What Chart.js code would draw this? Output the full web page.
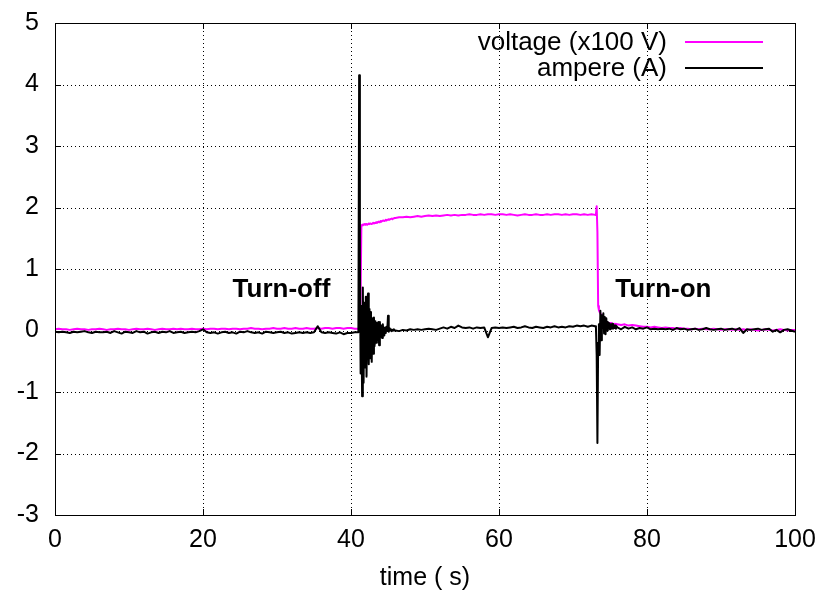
<!DOCTYPE html>
<html lang="en">
<head>
  <meta charset="UTF-8">
  <title>voltage / ampere</title>
  <script src="https://cdn.jsdelivr.net/npm/chart.js"></script>
  <style>
    html, body { margin: 0; padding: 0; background: #fff; }
    #wrap { width: 818px; height: 594px; }
  </style>
</head>
<body>
  <div id="wrap"><canvas id="vaChart" width="818" height="594"></canvas></div>
  <script>
    // time (s)
    const time = [
      0, 0.5, 1, 1.5, 2, 2.5, 3, 3.5, 4, 4.5,
      5, 5.5, 6, 6.5, 7, 7.5, 8, 8.5, 9, 9.5,
      10, 10.5, 11, 11.5, 12, 12.5, 13, 13.5, 14, 14.5,
      15, 15.5, 16, 16.5, 17, 17.5, 18, 18.5, 19, 19.5,
      20, 20.5, 21, 21.5, 22, 22.5, 23, 23.5, 24, 24.5,
      25, 25.5, 26, 26.5, 27, 27.5, 28, 28.5, 29, 29.5,
      30, 30.5, 31, 31.5, 32, 32.5, 33, 33.5, 34, 34.5,
      35, 35.5, 36, 36.5, 37, 37.5, 38, 38.5, 39, 39.5,
      40, 40.5, 41,
      41.1, 41.2, 41.3, 41.4, 41.5, 41.6, 41.7, 41.8, 41.9, 42.0,
      42.1, 42.2, 42.3, 42.4, 42.5, 42.6, 42.7, 42.8, 42.9, 43.0,
      43.1, 43.2, 43.3, 43.4, 43.5, 43.6, 43.7, 43.8, 43.9, 44.0,
      44.1, 44.2, 44.3, 44.4, 44.5, 44.6, 44.7, 44.8, 44.9, 45.0,
      45.1, 45.2, 45.3, 45.4, 45.5, 45.6, 45.7, 45.8, 45.9,
      46, 46.5, 47, 47.5, 48, 48.5, 49, 49.5, 50, 50.5,
      51, 51.5, 52, 52.5, 53, 53.5, 54, 54.5, 55, 55.5,
      56, 56.5, 57, 57.5, 58, 58.5, 59, 59.5, 60, 60.5,
      61, 61.5, 62, 62.5, 63, 63.5, 64, 64.5, 65, 65.5,
      66, 66.5, 67, 67.5, 68, 68.5, 69, 69.5, 70, 70.5,
      71, 71.5, 72, 72.5, 73,
      73.1, 73.2, 73.3, 73.4, 73.5, 73.6, 73.7, 73.8, 73.9, 74.0,
      74.1, 74.2, 74.3, 74.4, 74.5, 74.6, 74.7, 74.8, 74.9, 75.0,
      75.1, 75.2, 75.3, 75.4, 75.5, 75.6, 75.7, 75.8, 75.9,
      76, 76.5, 77, 77.5, 78, 78.5, 79, 79.5, 80, 80.5,
      81, 81.5, 82, 82.5, 83, 83.5, 84, 84.5, 85, 85.5,
      86, 86.5, 87, 87.5, 88, 88.5, 89, 89.5, 90, 90.5,
      91, 91.5, 92, 92.5, 93, 93.5, 94, 94.5, 95, 95.5,
      96, 96.5, 97, 97.5, 98, 98.5, 99, 99.5, 100
    ];

    // voltage (x100 V)
    const voltage = [
      0.02, 0.03, 0.02, 0.02, 0.01, 0.02, 0.03, 0.02, 0.02, 0.01,
      0.02, 0.02, 0.03, 0.02, 0.01, 0.02, 0.02, 0.03, 0.02, 0.02,
      0.01, 0.02, 0.03, 0.02, 0.02, 0.03, 0.02, 0.01, 0.02, 0.03,
      0.02, 0.02, 0.03, 0.02, 0.03, 0.02, 0.02, 0.03, 0.02, 0.02,
      0.03, 0.02, 0.03, 0.03, 0.02, 0.03, 0.03, 0.02, 0.03, 0.03,
      0.02, 0.03, 0.03, 0.04, 0.03, 0.03, 0.02, 0.03, 0.03, 0.04,
      0.03, 0.03, 0.04, 0.03, 0.03, 0.04, 0.03, 0.03, 0.04, 0.03,
      0.03, 0.04, 0.03, 0.04, 0.04, 0.03, 0.04, 0.04, 0.03, 0.04,
      0.04, 0.03, 0.03,
      0.03, 0.04, 0.60, 1.70, 1.72, 1.71, 1.72, 1.73, 1.72, 1.73,
      1.73, 1.72, 1.73, 1.74, 1.73, 1.74, 1.74, 1.73, 1.74, 1.75,
      1.74, 1.75, 1.75, 1.76, 1.75, 1.76, 1.77, 1.76, 1.77, 1.78,
      1.77, 1.78, 1.78, 1.79, 1.78, 1.79, 1.80, 1.79, 1.80, 1.80,
      1.81, 1.80, 1.81, 1.81, 1.82, 1.81, 1.82, 1.82, 1.83,
      1.83, 1.84, 1.84, 1.85, 1.84, 1.85, 1.86, 1.85, 1.86, 1.87,
      1.86, 1.87, 1.86, 1.87, 1.88, 1.87, 1.88, 1.87, 1.88, 1.88,
      1.89, 1.88, 1.88, 1.89, 1.88, 1.89, 1.89, 1.88, 1.89, 1.89,
      1.88, 1.89, 1.88, 1.87, 1.88, 1.89, 1.88, 1.88, 1.89, 1.88,
      1.88, 1.89, 1.88, 1.89, 1.89, 1.88, 1.89, 1.88, 1.89, 1.89,
      1.88, 1.89, 1.88, 1.89, 1.88,
      1.89, 2.02, 1.60, 0.40, 0.33, 0.30, 0.28, 0.25, 0.22, 0.20,
      0.18, 0.16, 0.15, 0.14, 0.13, 0.13, 0.12, 0.12, 0.11, 0.12,
      0.11, 0.12, 0.11, 0.11, 0.10, 0.11, 0.10, 0.11, 0.10,
      0.10, 0.09, 0.10, 0.08, 0.09, 0.08, 0.07, 0.06, 0.06, 0.05,
      0.06, 0.05, 0.04, 0.05, 0.04, 0.04, 0.03, 0.04, 0.03, 0.03,
      0.02, 0.03, 0.02, 0.03, 0.02, 0.02, 0.03, 0.02, 0.01, 0.02,
      0.02, 0.01, 0.02, 0.01, 0.02, 0.01, 0.02, 0.01, 0.00, 0.01,
      0.02, 0.01, 0.00, 0.01, 0.02, 0.01, 0.00, 0.01, 0.01
    ];

    // ampere (A)
    const ampere = [
      -0.02, -0.03, -0.02, -0.03, -0.04, -0.02, -0.03, -0.02, -0.01, -0.03,
      -0.04, -0.02, -0.03, -0.03, -0.02, -0.04, -0.01, -0.03, -0.05, -0.02,
      -0.03, -0.04, -0.01, -0.03, -0.02, -0.05, -0.03, -0.02, -0.04, -0.02,
      -0.03, -0.01, -0.04, -0.03, -0.02, -0.04, -0.03, -0.02, -0.03, -0.01,
      0.02, -0.03, -0.04, -0.03, -0.05, -0.03, -0.02, -0.04, -0.03, -0.05,
      -0.02, -0.03, -0.01, -0.03, -0.04, -0.03, -0.05, -0.02, -0.03, -0.04,
      -0.03, -0.02, -0.04, -0.03, -0.05, -0.04, -0.03, -0.04, -0.03, -0.04,
      -0.03, 0.07, -0.03, -0.04, -0.03, -0.04, -0.05, -0.03, -0.06, -0.04,
      -0.04, -0.03, -0.03,
      4.15, 1.20, -0.70, 0.40, -1.07, 0.70, -0.85, 0.45, -0.60, 0.55,
      -0.75, 0.50, 0.60, -0.55, 0.35, -0.45, 0.30, -0.51, 0.20, -0.38,
      0.21, -0.25, 0.15, -0.20, 0.12, -0.15, 0.14, -0.24, 0.14, -0.10,
      0.08, -0.12, 0.10, -0.06, -0.08, 0.05, -0.04, 0.06, 0.00, 0.24,
      -0.02, 0.04, 0.00, 0.02, -0.01, 0.01, 0.00, 0.02, 0.00,
      0.00, -0.01, 0.01, 0.00, 0.02, 0.01, 0.02, 0.01, 0.02, 0.03,
      0.02, 0.01, 0.03, 0.05, 0.03, 0.06, 0.04, 0.08, 0.05, 0.04,
      0.05, 0.03, 0.05, 0.04, 0.05, -0.11, 0.04, 0.05, 0.04, 0.05,
      0.04, 0.05, 0.06, 0.04, 0.05, 0.07, 0.05, 0.04, 0.06, 0.05,
      0.04, 0.06, 0.05, 0.07, 0.05, 0.06, 0.05, 0.07, 0.06, 0.08,
      0.07, 0.08, 0.06, 0.08, 0.07,
      0.05, -0.40, -1.83, -0.20, 0.10, -0.40, 0.32, -0.16, 0.25, 0.05,
      0.28, -0.05, 0.22, -0.06, 0.20, 0.00, 0.14, 0.03, 0.12, 0.02,
      0.10, 0.04, 0.11, 0.03, 0.09, 0.04, 0.08, 0.03, 0.07,
      0.05, 0.02, 0.06, 0.03, 0.05, 0.02, 0.04, 0.03, 0.05, 0.02,
      0.03, 0.02, 0.03, 0.02, 0.03, 0.01, 0.04, 0.02, 0.03, 0.01,
      0.02, 0.03, 0.01, 0.02, 0.04, 0.02, 0.01, 0.02, 0.03, 0.01,
      0.02, 0.03, 0.01, 0.04, -0.04, 0.02, 0.01, 0.02, 0.03, 0.01,
      0.02, 0.03, -0.02, 0.01, -0.03, 0.01, 0.02, 0.00, -0.02
    ];

    const seriesNames = ['voltage (x100 V)', 'ampere (A)'];
    const seriesColors = ['#ff00ff', '#000000'];
    const xTitle = 'time ( s)';
    const notes = [
      { text: 'Turn-off', x: 24, y: 0.55 },
      { text: 'Turn-on', x: 75.7, y: 0.55 }
    ];

    const FONT = "'Liberation Sans', Arial, sans-serif";
    const FS = 25;
    Chart.defaults.font.family = FONT;
    Chart.defaults.color = '#000';

    // gnuplot style frame: dotted grid, solid box, inward ticks
    const framePlugin = {
      id: 'frame',
      beforeDatasetsDraw(chart) {
        const { ctx, chartArea: a, scales: { x, y } } = chart;
        ctx.save();
        ctx.strokeStyle = '#000';
        ctx.lineWidth = 1;
        ctx.setLineDash([1, 3]);
        ctx.beginPath();
        x.ticks.forEach(t => {
          if (t.value <= x.min || t.value >= x.max) return;
          const px = Math.round(x.getPixelForValue(t.value)) + 0.5;
          ctx.moveTo(px, a.top); ctx.lineTo(px, a.bottom);
        });
        y.ticks.forEach(t => {
          if (t.value <= y.min || t.value >= y.max) return;
          const py = Math.round(y.getPixelForValue(t.value)) + 0.5;
          ctx.moveTo(a.left, py); ctx.lineTo(a.right, py);
        });
        ctx.stroke();
        ctx.restore();
      },
      afterDatasetsDraw(chart) {
        const { ctx, chartArea: a, scales: { x, y } } = chart;
        ctx.save();
        ctx.strokeStyle = '#000';
        ctx.lineWidth = 1;
        ctx.beginPath();
        const tl = 6;
        x.ticks.forEach(t => {
          const px = Math.round(x.getPixelForValue(t.value)) + 0.5;
          ctx.moveTo(px, a.bottom); ctx.lineTo(px, a.bottom - tl);
          ctx.moveTo(px, a.top); ctx.lineTo(px, a.top + tl);
        });
        y.ticks.forEach(t => {
          const py = Math.round(y.getPixelForValue(t.value)) + 0.5;
          ctx.moveTo(a.left, py); ctx.lineTo(a.left + tl, py);
          ctx.moveTo(a.right, py); ctx.lineTo(a.right - tl, py);
        });
        ctx.stroke();
        ctx.strokeRect(Math.round(a.left) + 0.5, Math.round(a.top) + 0.5,
          Math.round(a.right - a.left), Math.round(a.bottom - a.top));

        // labels inside the plot
        ctx.font = 'bold 26px ' + FONT;
        ctx.fillStyle = '#000';
        ctx.textBaseline = 'alphabetic';
        ctx.textAlign = 'left';
        notes.forEach(n => {
          ctx.fillText(n.text, x.getPixelForValue(n.x), y.getPixelForValue(n.y));
        });

        // key, top right
        ctx.font = '26px ' + FONT;
        ctx.textAlign = 'right';
        ctx.textBaseline = 'middle';
        seriesNames.forEach((name, i) => {
          const ly = 42 + i * 26;
          ctx.fillText(name, 667, ly + 1);
          ctx.strokeStyle = seriesColors[i];
          ctx.lineWidth = 2;
          ctx.beginPath();
          ctx.moveTo(685, ly); ctx.lineTo(763, ly);
          ctx.stroke();
        });
        ctx.restore();
      }
    };

    const chart = new Chart(document.getElementById('vaChart'), {
      type: 'line',
      data: {
        datasets: [
          {
            label: seriesNames[0],
            data: time.map((t, i) => ({ x: t, y: voltage[i] })),
            borderColor: seriesColors[0],
            borderWidth: 2,
            order: 1
          },
          {
            label: seriesNames[1],
            data: time.map((t, i) => ({ x: t, y: ampere[i] })),
            borderColor: seriesColors[1],
            borderWidth: 2,
            order: 0
          }
        ]
      },
      options: {
        responsive: false,
        animation: false,
        layout: { padding: { top: 21, right: 23, left: 0, bottom: 0 } },
        elements: {
          point: { radius: 0 },
          line: { tension: 0, borderJoinStyle: 'round' }
        },
        plugins: {
          legend: { display: false },
          tooltip: { enabled: false }
        },
        scales: {
          x: {
            type: 'linear',
            min: 0,
            max: 100,
            ticks: { stepSize: 20, font: { size: FS }, padding: 2, maxRotation: 0 },
            grid: { display: false },
            border: { display: false },
            title: { display: true, text: xTitle, font: { size: FS }, padding: { bottom: 1 } },
            afterFit(scale) { scale.height = 79; }
          },
          y: {
            min: -3,
            max: 5,
            ticks: { stepSize: 1, font: { size: FS }, padding: 8 },
            grid: { display: false },
            border: { display: false },
            afterFit(scale) { scale.width = 55; }
          }
        }
      },
      plugins: [framePlugin]
    });
  </script>
</body>
</html>
